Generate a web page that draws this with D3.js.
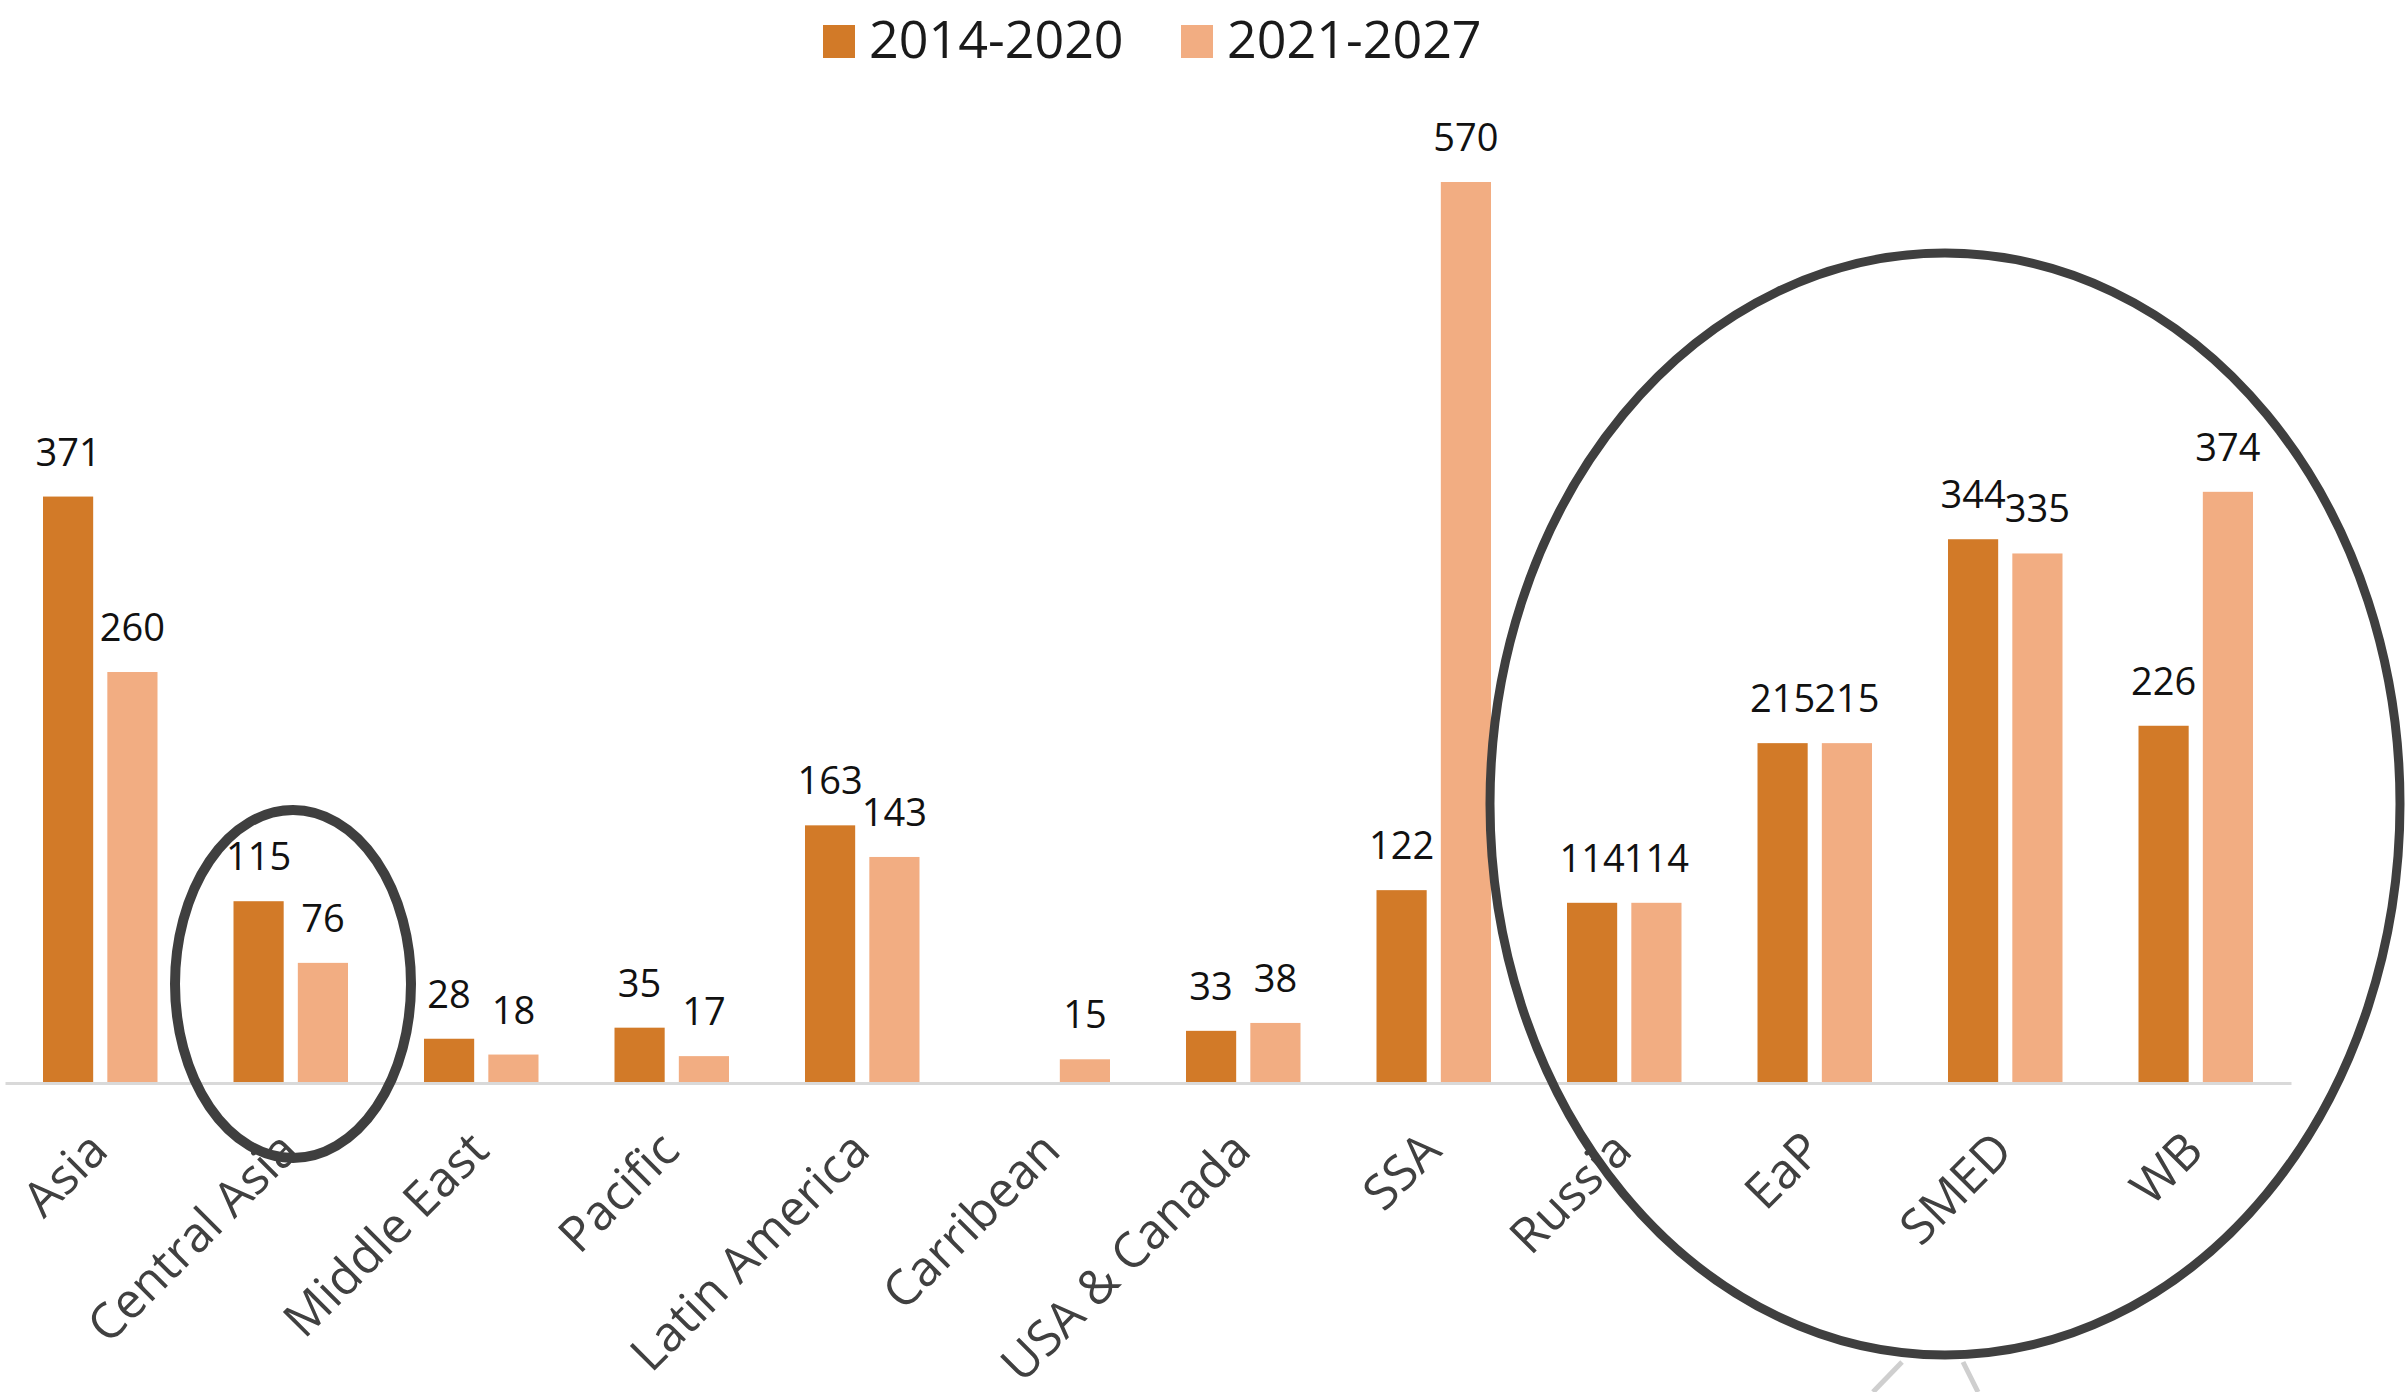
<!DOCTYPE html>
<html>
<head>
<meta charset="utf-8">
<script src="https://cdn.jsdelivr.net/npm/d3@7"></script>
<style>
  html, body { margin: 0; padding: 0; background: #ffffff; }
  svg { display: block; }
  text { font-family: "Open Sans", "Liberation Sans", sans-serif; }
</style>
</head>
<body>
<script>
const categories = ["Asia", "Central Asia", "Middle East", "Pacific", "Latin America", "Carribean",
                    "USA & Canada", "SSA", "Russia", "EaP", "SMED", "WB"];
const seriesNames = ["2014-2020", "2021-2027"];
const values2014 = [371, 115, 28, 35, 163, null, 33, 122, 114, 215, 344, 226];
const values2021 = [260, 76, 18, 17, 143, 15, 38, 570, 114, 215, 335, 374];
const colors = ["#D27A28", "#F2AD82"];

const W = 2408, H = 1392;
const svg = d3.select("body").append("svg").attr("width", W).attr("height", H);
svg.append("rect").attr("width", W).attr("height", H).attr("fill", "#ffffff");

const baseY = 1083;
const x0 = d3.scaleBand().domain(categories).range([5, 2291]).paddingInner(0).paddingOuter(0);
const x1 = d3.scaleBand().domain(seriesNames).range([38, x0.bandwidth() - 38]).paddingInner(0.22);
const y = d3.scaleLinear().domain([0, 570]).range([baseY, 182]);

const data = categories.map((c, i) => ({cat: c, vals: [values2014[i], values2021[i]]}));

const groups = svg.append("g").selectAll("g").data(data).join("g")
  .attr("transform", d => `translate(${x0(d.cat)},0)`);

groups.selectAll("rect").data(d => d.vals.map((v, k) => ({v, k})).filter(e => e.v != null))
  .join("rect")
  .attr("x", e => x1(seriesNames[e.k]))
  .attr("width", x1.bandwidth())
  .attr("y", e => y(e.v))
  .attr("height", e => baseY - y(e.v))
  .attr("fill", e => colors[e.k]);

groups.selectAll("text.val").data(d => d.vals.map((v, k) => ({v, k})).filter(e => e.v != null))
  .join("text").attr("class", "val")
  .attr("x", e => x1(seriesNames[e.k]) + x1.bandwidth() / 2)
  .attr("y", e => y(e.v) - 31)
  .attr("text-anchor", "middle")
  .attr("font-size", 38)
  .attr("fill", "#111111")
  .text(e => e.v);

// axis line
const xAxis = d3.axisBottom(x0).tickSize(0).tickFormat("");
const axG = svg.append("g").attr("transform", `translate(0,${baseY})`).call(xAxis);
axG.select(".domain").attr("stroke", "#D9D9D9").attr("stroke-width", 3);

// category labels
svg.append("g").selectAll("text").data(categories).join("text")
  .attr("transform", d => `translate(${x0(d) + x0.bandwidth() / 2 + 10},${baseY + 70}) rotate(-45)`)
  .attr("text-anchor", "end")
  .attr("font-size", 49)
  .attr("fill", "#404040")
  .text(d => d);

// legend
const legendX = [823, 1181];
const lg = svg.append("g").selectAll("g").data(seriesNames).join("g")
  .attr("transform", (d, i) => `translate(${legendX[i]},0)`);
lg.append("rect").attr("x", 0).attr("y", 25).attr("width", 32).attr("height", 33)
  .attr("fill", (d, i) => colors[i]);
lg.append("text").attr("x", 46).attr("y", 58).attr("font-size", 52).attr("fill", "#1a1a1a").text(d => d);

// annotation ellipses
svg.append("ellipse").attr("cx", 293).attr("cy", 984).attr("rx", 118).attr("ry", 174)
  .attr("fill", "none").attr("stroke", "#3f3f3f").attr("stroke-width", 10);
svg.append("ellipse").attr("cx", 1945).attr("cy", 804).attr("rx", 455).attr("ry", 551)
  .attr("fill", "none").attr("stroke", "#3f3f3f").attr("stroke-width", 9);

// faint callout lines at the bottom
svg.append("line").attr("x1", 1873).attr("y1", 1392).attr("x2", 1902).attr("y2", 1362)
  .attr("stroke", "#cfcfcf").attr("stroke-width", 5);
svg.append("line").attr("x1", 1963).attr("y1", 1362).attr("x2", 1978).attr("y2", 1392)
  .attr("stroke", "#cfcfcf").attr("stroke-width", 5);
</script>
</body>
</html>
